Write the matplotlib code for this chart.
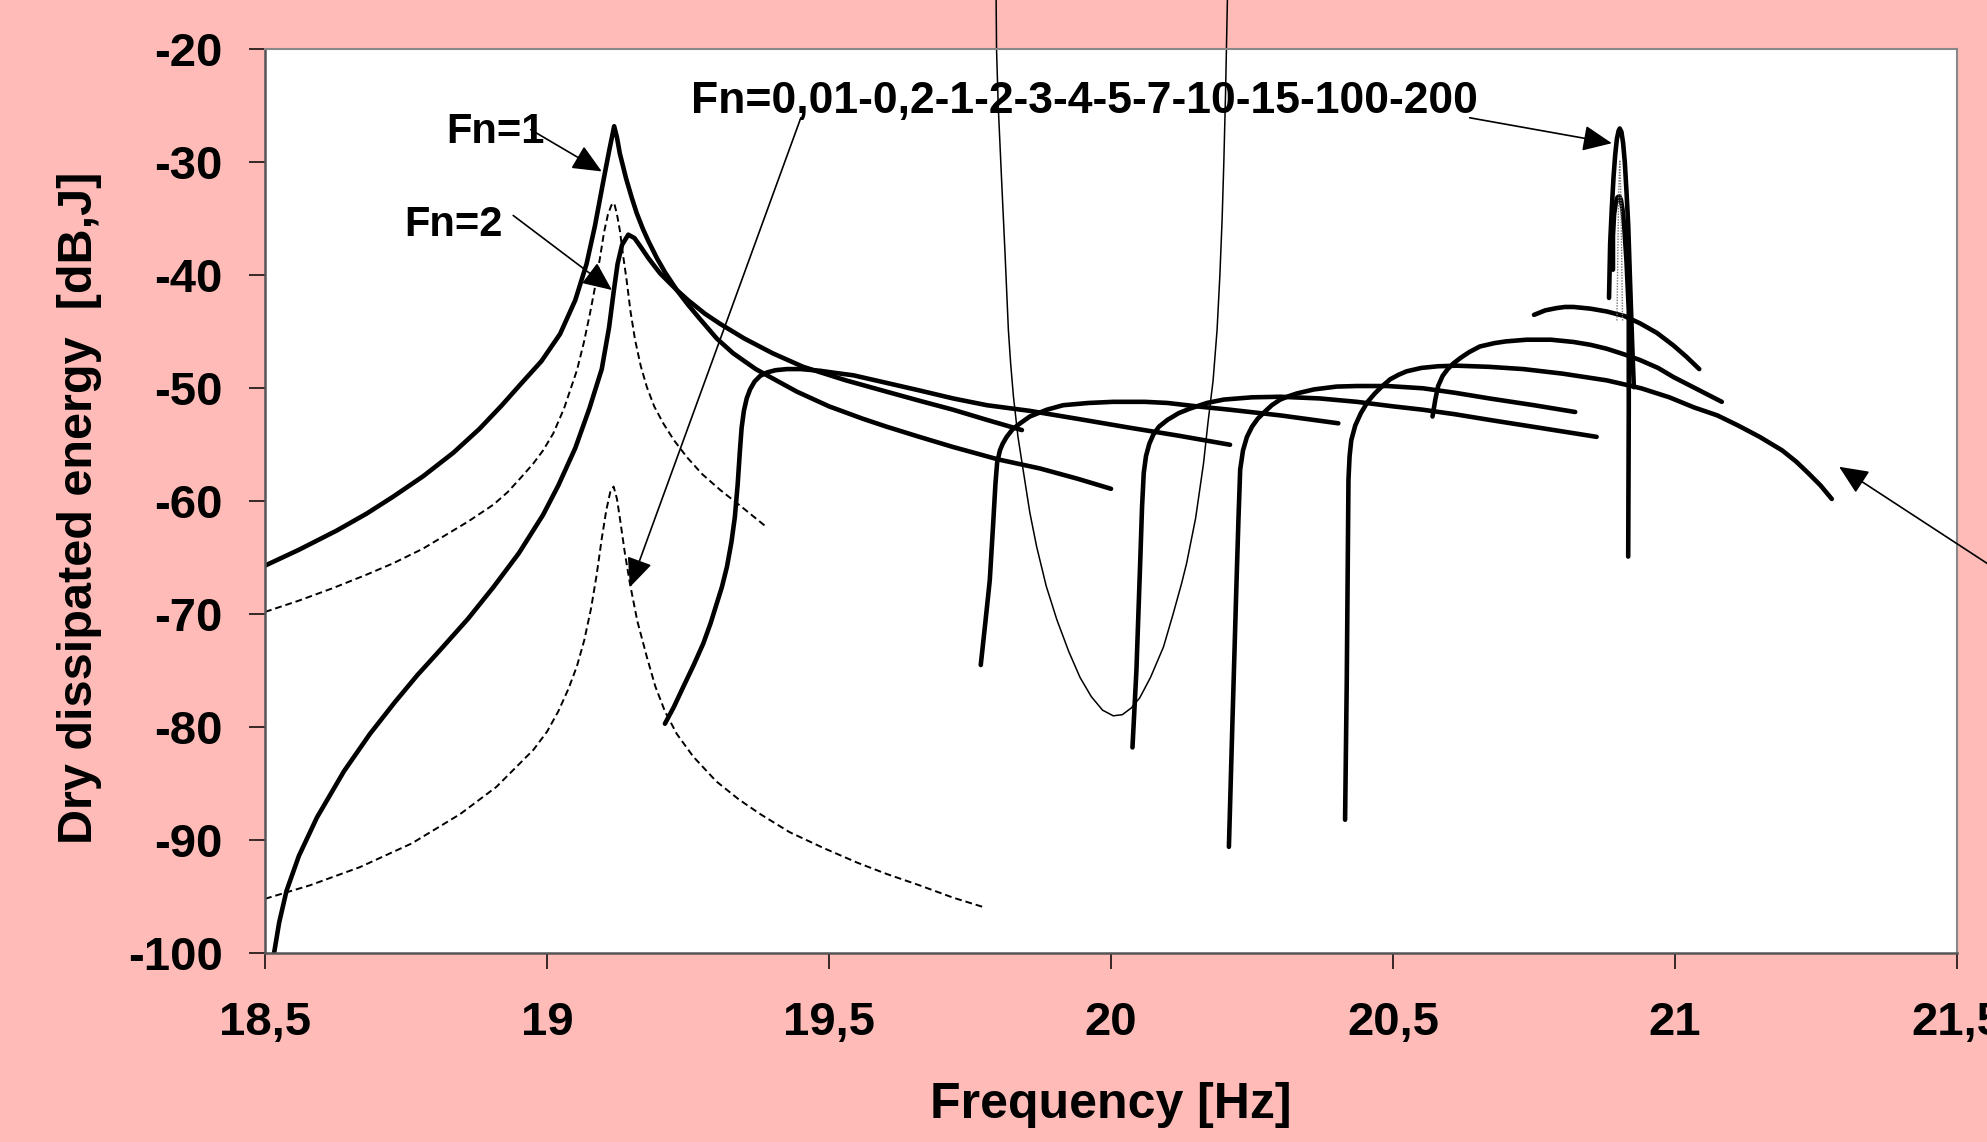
import matplotlib
matplotlib.use("Agg")
import matplotlib.pyplot as plt

plt.rcParams['font.family'] = ['Liberation Sans', 'DejaVu Sans']
plt.rcParams['font.weight'] = 'bold'
plt.rcParams['axes.unicode_minus'] = False

# --- data (frequency in Hz, energy in dB,J) ---
fn1_x = [18.50, 18.56, 18.627, 18.68, 18.727, 18.78, 18.834, 18.88, 18.92, 18.952, 18.99, 19.023,
         19.05, 19.07, 19.085, 19.10, 19.11, 19.119, 19.124, 19.129, 19.14, 19.15, 19.159, 19.17,
         19.18, 19.195, 19.21, 19.23, 19.25, 19.27, 19.301, 19.33, 19.37, 19.41, 19.443, 19.50,
         19.56, 19.602, 19.66, 19.72, 19.80, 19.874, 19.94, 20.00]
fn1_y = [-65.7, -64.3, -62.6, -61.1, -59.6, -57.8, -55.7, -53.6, -51.5, -49.7, -47.6, -45.2,
         -42.2, -39.0, -35.6, -31.6, -29.0, -26.8, -27.8, -29.2, -31.4, -33.1, -34.5, -35.9,
         -37.0, -38.5, -39.8, -41.3, -42.6, -43.8, -45.6, -46.9, -48.3, -49.4, -50.3, -51.6,
         -52.7, -53.4, -54.3, -55.2, -56.3, -57.1, -58.0, -58.9]

fn2_x = [18.516, 18.525, 18.538, 18.56, 18.592, 18.64, 18.686, 18.73, 18.77, 18.81, 18.86, 18.905,
         18.95, 18.993, 19.02, 19.05, 19.075, 19.097, 19.11, 19.118, 19.125, 19.133, 19.144, 19.155,
         19.165, 19.18, 19.20, 19.23, 19.25, 19.28, 19.307, 19.35, 19.40, 19.454, 19.53, 19.602,
         19.66, 19.72, 19.78, 19.842]
fn2_y = [-100.0, -97.3, -94.5, -91.4, -88.0, -83.9, -80.6, -77.8, -75.4, -73.2, -70.4, -67.6,
         -64.6, -61.2, -58.6, -55.3, -51.8, -48.3, -44.6, -41.5, -39.0, -37.3, -36.4, -36.7,
         -37.4, -38.5, -39.8, -41.3, -42.2, -43.4, -44.3, -45.6, -46.9, -48.1, -49.3, -50.3,
         -51.1, -51.9, -52.8, -53.7]

fn3_x = [19.209, 19.225, 19.24, 19.26, 19.277, 19.29, 19.30, 19.31, 19.319, 19.327, 19.333, 19.338,
         19.342, 19.345, 19.349, 19.354, 19.36, 19.368, 19.378, 19.39, 19.405, 19.425, 19.45, 19.484,
         19.52, 19.543, 19.60, 19.661, 19.72, 19.78, 19.856, 19.94, 20.034, 20.12, 20.211]
fn3_y = [-79.7, -78.2, -76.6, -74.5, -72.6, -70.8, -69.2, -67.6, -65.8, -63.6, -61.4, -58.5,
         -55.5, -53.5, -52.0, -50.9, -50.1, -49.4, -48.9, -48.6, -48.4, -48.3, -48.3, -48.45,
         -48.7, -48.85, -49.5, -50.2, -50.9, -51.5, -52.0, -52.7, -53.5, -54.2, -55.0]

fn4_x = [19.769, 19.777, 19.785, 19.791, 19.795, 19.798, 19.803, 19.808, 19.815, 19.826, 19.839,
         19.856, 19.886, 19.915, 19.96, 20.004, 20.06, 20.10, 20.152, 20.211, 20.30, 20.403]
fn4_y = [-74.5, -70.8, -67.0, -62.0, -58.5, -56.6, -55.5, -54.9, -54.3, -53.6, -53.1,
         -52.5, -51.9, -51.5, -51.3, -51.2, -51.2, -51.3, -51.6, -51.9, -52.4, -53.1]

fn5_x = [20.038, 20.045, 20.052, 20.055, 20.058, 20.062, 20.068, 20.075, 20.085, 20.10, 20.12, 20.14,
         20.17, 20.20, 20.25, 20.30, 20.37, 20.436, 20.50, 20.553, 20.61, 20.671, 20.76, 20.861]
fn5_y = [-81.8, -75.0, -65.0, -60.5, -57.5, -56.0, -54.9, -54.1, -53.4, -52.8, -52.2, -51.8,
         -51.3, -51.0, -50.8, -50.75, -50.9, -51.2, -51.6, -51.9, -52.3, -52.8, -53.5, -54.3]

fn7_x = [20.209, 20.215, 20.222, 20.226, 20.229, 20.234, 20.241, 20.25, 20.26, 20.27, 20.285, 20.30,
         20.315, 20.33, 20.36, 20.40, 20.436, 20.49, 20.553, 20.61, 20.671, 20.75, 20.823]
fn7_y = [-90.6, -80.0, -68.0, -61.5, -57.2, -55.5, -54.3, -53.4, -52.7, -52.2, -51.5, -51.0,
         -50.7, -50.45, -50.1, -49.85, -49.8, -49.8, -50.0, -50.4, -50.9, -51.5, -52.1]

fn10_x = [20.415, 20.418, 20.420, 20.421, 20.423, 20.426, 20.433, 20.443, 20.455, 20.467, 20.479,
          20.495, 20.51, 20.524, 20.55, 20.58, 20.613, 20.67, 20.731, 20.80, 20.879, 20.94, 20.99,
          21.034, 21.075, 21.112, 21.15, 21.19, 21.215, 21.236, 21.258, 21.278]
fn10_y = [-88.2, -75.8, -64.0, -58.1, -56.0, -54.6, -53.3, -52.2, -51.2, -50.5, -49.9,
          -49.2, -48.8, -48.5, -48.2, -48.05, -48.0, -48.1, -48.3, -48.7, -49.3, -50.0, -50.8,
          -51.7, -52.4, -53.3, -54.3, -55.5, -56.5, -57.5, -58.6, -59.8]

fn15_x = [20.570, 20.575, 20.580, 20.588, 20.597, 20.607, 20.62, 20.635, 20.654, 20.68, 20.70, 20.737,
          20.78, 20.820, 20.85, 20.879, 20.91, 20.938, 20.97, 20.997, 21.04, 21.083]
fn15_y = [-52.5, -51.0, -49.8, -48.9, -48.3, -47.8, -47.3, -46.8, -46.3, -46.0, -45.85, -45.7,
          -45.7, -45.9, -46.15, -46.5, -47.0, -47.5, -48.2, -49.0, -50.1, -51.2]

arc_x = [20.750, 20.76, 20.77, 20.790, 20.805, 20.820, 20.85, 20.879, 20.91, 20.938, 20.968, 20.997,
         21.02, 21.043]
arc_y = [-43.5, -43.3, -43.1, -42.9, -42.8, -42.8, -42.95, -43.2, -43.6, -44.25, -45.1, -46.2,
         -47.2, -48.3]

fn200_x = [20.883, 20.885, 20.888, 20.891, 20.894, 20.897, 20.900, 20.902, 20.905, 20.908, 20.911,
           20.914, 20.917, 20.920, 20.924, 20.927]
fn200_y = [-42.0, -37.2, -34.0, -31.3, -29.3, -27.9, -27.2, -27.0, -27.3, -28.3, -30.0,
           -32.6, -35.5, -40.1, -46.0, -49.9]

fn100_x = [20.890, 20.890, 20.892, 20.895, 20.898, 20.901, 20.904, 20.907, 20.910, 20.914, 20.918,
           20.918, 20.917]
fn100_y = [-39.5, -36.5, -34.6, -33.6, -33.1, -33.0, -33.3, -34.2, -35.7, -38.8, -43.1,
           -52.0, -64.9]

stick_dot_x = [20.897, 20.900, 20.902, 20.904, 20.907]
stick_dot_y = [-44.0, -33.0, -29.8, -33.0, -44.0]

fn02_x = [18.50, 18.56, 18.62, 18.68, 18.727, 18.78, 18.82, 18.86, 18.905, 18.93, 18.952, 18.975,
          18.993, 19.011, 19.03, 19.053, 19.065, 19.076, 19.086, 19.094, 19.101, 19.108, 19.114,
          19.119, 19.124, 19.129, 19.135, 19.141, 19.148, 19.156, 19.166, 19.177, 19.19, 19.206,
          19.225, 19.248, 19.275, 19.307, 19.35, 19.387]
fn02_y = [-69.8, -68.8, -67.7, -66.5, -65.5, -64.2, -63.0, -61.8, -60.3, -59.2, -58.0, -56.7,
          -55.5, -54.0, -51.8, -48.4, -46.0, -43.4, -40.8, -38.4, -36.2, -34.6, -33.8,
          -33.6, -34.6, -36.0, -38.3, -40.4, -43.2, -45.7, -48.0, -49.9, -51.6, -53.1,
          -54.6, -56.1, -57.6, -59.0, -60.7, -62.2]

fn001_x = [18.50, 18.58, 18.668, 18.76, 18.846, 18.91, 18.976, 19.00, 19.02, 19.038, 19.053, 19.066,
           19.078, 19.088, 19.097, 19.105, 19.112, 19.118, 19.124, 19.13, 19.138, 19.147, 19.16,
           19.177, 19.192, 19.209, 19.23, 19.259, 19.30, 19.34, 19.378, 19.43, 19.49, 19.55,
           19.602, 19.66, 19.72, 19.778]
fn001_y = [-95.2, -94.0, -92.4, -90.3, -87.7, -85.3, -82.0, -80.4, -78.6, -76.6, -74.6, -72.3,
           -69.5, -66.5, -63.3, -60.8, -59.2, -58.7, -59.8, -61.8, -64.6, -67.3, -70.6,
           -73.8, -76.4, -78.6, -80.6, -82.6, -84.8, -86.4, -87.7, -89.3, -90.7, -92.0,
           -93.0, -94.0, -95.1, -96.0]

u_x = [19.796, 19.797, 19.800, 19.806, 19.812, 19.818, 19.822, 19.827, 19.835, 19.845, 19.856, 19.868,
       19.885, 19.904, 19.925, 19.945, 19.965, 19.985, 20.004, 20.02, 20.036, 20.051, 20.07, 20.093,
       20.11, 20.125, 20.134, 20.15, 20.164, 20.172, 20.181, 20.188, 20.193, 20.197, 20.200, 20.203,
       20.205, 20.207]
u_y = [-14.0, -20.0, -25.0, -31.6, -38.0, -44.85, -47.8, -50.75, -54.3, -57.5, -61.0, -64.0,
       -67.5, -70.5, -73.3, -75.6, -77.3, -78.5, -79.0, -78.9, -78.3, -77.4, -75.6, -72.9,
       -70.0, -67.3, -65.5, -61.5, -56.65, -53.0, -49.3, -44.85, -40.0, -35.0, -30.0, -24.0,
       -19.0, -14.0]

xticks = [18.5, 19, 19.5, 20, 20.5, 21, 21.5]
xtick_labels = ['18,5', '19', '19,5', '20', '20,5', '21', '21,5']
yticks = [-100, -90, -80, -70, -60, -50, -40, -30, -20]

fig = plt.figure(figsize=(19.87, 11.42), dpi=100)
fig.patch.set_facecolor('#febbb7')
ax = fig.add_axes([0.1334, 0.1655, 0.8515, 0.7912])
ax.set_facecolor('white')

thick = dict(color='black', lw=3.3, solid_capstyle='round', solid_joinstyle='round')
for xs, ys in [(fn1_x, fn1_y), (fn2_x, fn2_y), (fn3_x, fn3_y), (fn4_x, fn4_y), (fn5_x, fn5_y),
               (fn7_x, fn7_y), (fn10_x, fn10_y), (fn15_x, fn15_y), (arc_x, arc_y),
               (fn200_x, fn200_y), (fn100_x, fn100_y)]:
    ax.plot(xs, ys, **thick)

ax.plot(fn02_x, fn02_y, color='black', lw=1.4, ls=(0, (3.5, 2)))
ax.plot(fn001_x, fn001_y, color='black', lw=1.4, ls=(0, (3.5, 2)))
ax.plot(stick_dot_x, stick_dot_y, color='#777777', lw=1.0, ls=(0, (1, 1)))
ax.plot(u_x, u_y, color='black', lw=1.1, clip_on=False)

# labels and arrows
txt = dict(fontsize=30, fontweight='bold', ha='center', va='baseline')
ax.text(18.9085, -28.3, 'Fn=1', **txt)
ax.text(18.834, -36.5, 'Fn=2', **txt)
ax.text(19.953, -25.65, 'Fn=0,01-0,2-1-2-3-4-5-7-10-15-100-200', fontsize=32,
        fontweight='bold', ha='center', va='baseline')

arrow = dict(arrowstyle='-|>,head_length=0.9,head_width=0.4', color='black', lw=1.2,
             mutation_scale=20, shrinkA=0, shrinkB=0)
ax.annotate('', xy=(19.097, -30.8), xytext=(18.971, -27.1), arrowprops=arrow)
ax.annotate('', xy=(19.115, -41.3), xytext=(18.94, -34.7), arrowprops=arrow)
ax.annotate('', xy=(19.147, -67.6), xytext=(19.45, -26.05), arrowprops=arrow)
ax.annotate('', xy=(20.888, -28.3), xytext=(20.636, -26.05), arrowprops=arrow)
ax.annotate('', xy=(21.291, -56.95), xytext=(21.63, -68.0), arrowprops=arrow,
            annotation_clip=False)

ax.set_xlim(18.5, 21.5)
ax.set_ylim(-100, -20)
ax.set_xticks(xticks)
ax.set_xticklabels(xtick_labels)
ax.set_yticks(yticks)
ax.set_yticklabels([str(v) for v in yticks])
ax.tick_params(axis='both', direction='out', length=11.5, width=1.1, labelsize=34)
ax.tick_params(axis='x', pad=23)
ax.tick_params(axis='y', pad=19)

for side in ['top', 'right']:
    ax.spines[side].set_color('#888888')
    ax.spines[side].set_linewidth(1.5)
for side in ['left', 'bottom']:
    ax.spines[side].set_color('#555555')
    ax.spines[side].set_linewidth(1.8)

ax.set_xlabel('Frequency [Hz]', fontsize=36, fontweight='bold')
ax.set_ylabel('Dry dissipated energy  [dB,J]', fontsize=35, fontweight='bold')
ax.xaxis.set_label_coords(0.5, -0.1428)
ax.yaxis.set_label_coords(-0.0963, 0.4925)

fig.savefig('out.png', dpi=100, facecolor=fig.get_facecolor())
